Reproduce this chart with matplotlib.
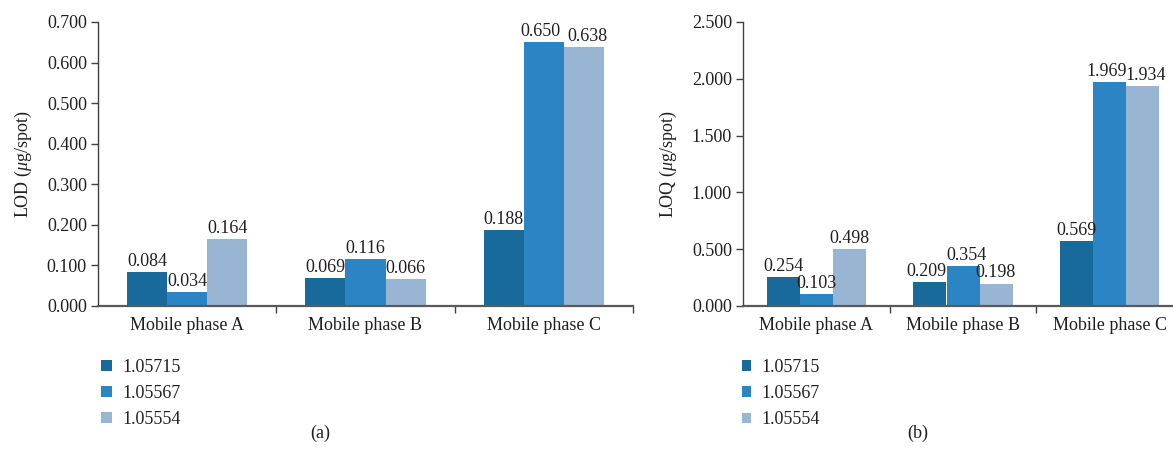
import numpy as np
import matplotlib
matplotlib.use('Agg')
import matplotlib.pyplot as plt
from matplotlib.ticker import FormatStrFormatter, FixedLocator

plt.rcParams['font.family'] = ['Liberation Serif', 'DejaVu Serif']
plt.rcParams['mathtext.fontset'] = 'custom'
plt.rcParams['mathtext.rm'] = 'Liberation Serif'
plt.rcParams['mathtext.it'] = 'Liberation Serif:italic'

categories = ['Mobile phase A', 'Mobile phase B', 'Mobile phase C']
series = ['1.05715', '1.05567', '1.05554']
lod = [[0.084, 0.069, 0.188],
       [0.034, 0.116, 0.650],
       [0.164, 0.066, 0.638]]
loq = [[0.254, 0.209, 0.569],
       [0.103, 0.354, 1.969],
       [0.498, 0.198, 1.934]]
colors = ['#186a9b', '#2b84c4', '#98b5d4']

fig = plt.figure(figsize=(11.73, 4.68), dpi=100)
W, H = 1173, 468
FS = 13


def panel(rect, data, ylabel, ymax, yticks, caption, cap_x, leg_x, marker_px):
    ax = fig.add_axes(rect)
    x = np.arange(len(categories))
    w = 0.225
    for i, vals in enumerate(data):
        pos = x + (i - 1) * w
        bars = ax.bar(pos, vals, w, color=colors[i], label=series[i])
        for j, (b, v) in enumerate(zip(bars, vals)):
            # push apart labels of neighbouring bars with nearly equal heights
            dx = 0
            if i > 0 and abs(data[i - 1][j] - v) < ymax * 0.06:
                dx += 2.5
            if i < len(data) - 1 and abs(data[i + 1][j] - v) < ymax * 0.06:
                dx -= 2.5
            ax.annotate(f'{v:.3f}', (b.get_x() + b.get_width() / 2, v),
                        xytext=(dx, 1.5), textcoords='offset points',
                        ha='center', va='bottom', fontsize=FS, color='#231f20')
    ax.set_xlim(-0.5, 2.5)
    ax.set_ylim(0, ymax)
    ax.set_yticks(yticks)
    ax.yaxis.set_major_formatter(FormatStrFormatter('%.3f'))
    ax.set_xticks(x)
    ax.set_xticklabels(categories)
    ax.xaxis.set_minor_locator(FixedLocator([0.5, 1.5, 2.5]))
    ax.tick_params(axis='x', which='major', length=0, pad=8, labelsize=FS, colors='#231f20')
    ax.tick_params(axis='x', which='minor', length=5, width=1, color='#404040')
    ax.tick_params(axis='y', length=5, width=1, color='#404040', labelsize=FS,
                   labelcolor='#231f20', pad=3)
    for s in ['top', 'right']:
        ax.spines[s].set_visible(False)
    ax.spines['left'].set_color('#404040')
    ax.spines['left'].set_linewidth(1.0)
    ax.spines['bottom'].set_color('#5a5a5a')
    ax.spines['bottom'].set_linewidth(1.6)
    ax.set_ylabel(ylabel, fontsize=FS, color='#231f20', labelpad=9)
    handles, labels = ax.get_legend_handles_labels()
    fig.legend(handles, labels, loc='upper left',
               bbox_to_anchor=(leg_x / W, 1 - 359 / H), frameon=False,
               fontsize=FS, handlelength=marker_px / 18, handleheight=marker_px / 18,
               handletextpad=0.6, labelspacing=0.5, borderpad=0, borderaxespad=0,
               labelcolor='#231f20')
    fig.text(cap_x / W, 1 - 433 / H, caption, ha='center', va='center',
             fontsize=FS, color='#231f20')
    return ax


panel([98 / W, 1 - 306 / H, 535 / W, 284 / H], lod, r'LOD ($\mathit{\mu}$g/spot)',
      0.7, np.arange(0, 0.71, 0.1), '(a)', 320, 101, 11)
panel([743 / W, 1 - 306 / H, 440 / W, 284 / H], loq, r'LOQ ($\mathit{\mu}$g/spot)',
      2.5, np.arange(0, 2.51, 0.5), '(b)', 918, 742, 9)

fig.savefig('out.png', dpi=100)
